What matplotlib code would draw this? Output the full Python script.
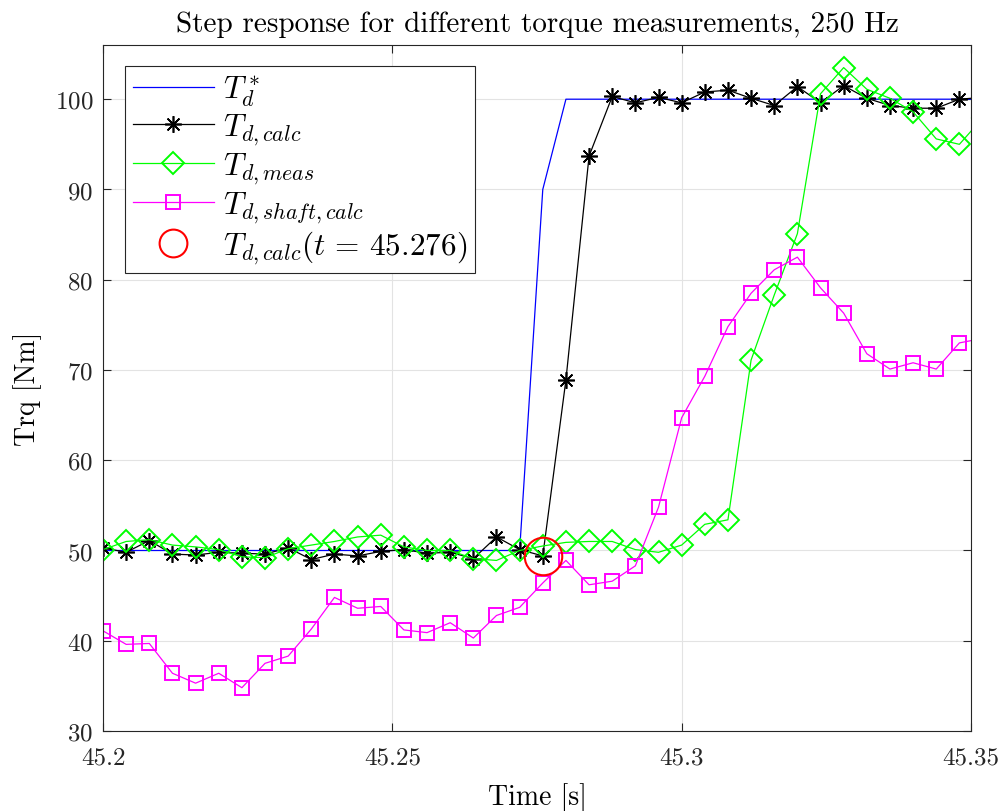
import numpy as np
import matplotlib
matplotlib.use('Agg')
import matplotlib.pyplot as plt

plt.rcParams['font.family'] = 'serif'
plt.rcParams['font.serif'] = ['cmr10']
plt.rcParams['mathtext.fontset'] = 'cm'
plt.rcParams['axes.unicode_minus'] = False
plt.rcParams['axes.formatter.use_mathtext'] = True

# sample times, 250 Hz
t = [45.200, 45.204, 45.208, 45.212, 45.216, 45.220, 45.224, 45.228, 45.232, 45.236,
     45.240, 45.244, 45.248, 45.252, 45.256, 45.260, 45.264, 45.268, 45.272, 45.276,
     45.280, 45.284, 45.288, 45.292, 45.296, 45.300, 45.304, 45.308, 45.312, 45.316,
     45.320, 45.324, 45.328, 45.332, 45.336, 45.340, 45.344, 45.348, 45.352]

T_ref = [50, 50, 50, 50, 50, 50, 50, 50, 50, 50,
         50, 50, 50, 50, 50, 50, 50, 50, 50, 90,
         100, 100, 100, 100, 100, 100, 100, 100, 100, 100,
         100, 100, 100, 100, 100, 100, 100, 100, 100]

T_calc = [50.3, 49.8, 51.1, 49.6, 49.5, 49.8, 49.7, 49.6, 50.3, 49.0,
          49.6, 49.4, 49.9, 50.1, 49.7, 49.8, 49.1, 51.5, 50.1, 49.4,
          68.9, 93.7, 100.3, 99.6, 100.2, 99.6, 100.8, 101.0, 100.1, 99.3,
          101.4, 99.6, 101.5, 100.1, 99.3, 99.0, 99.0, 100.0, 100.2]

T_meas = [50.1, 51.0, 51.2, 50.6, 50.4, 50.1, 49.3, 49.2, 50.2, 50.6,
          51.0, 51.5, 51.7, 50.4, 50.0, 50.0, 49.1, 48.9, 50.0, 50.5,
          50.9, 51.0, 51.0, 50.1, 49.8, 50.6, 52.9, 53.4, 71.1, 78.3,
          85.1, 100.6, 103.5, 101.1, 100.1, 98.6, 95.6, 95.0, 97.9]

T_shaft = [41.1, 39.6, 39.7, 36.4, 35.3, 36.4, 34.8, 37.5, 38.3, 41.3,
           44.8, 43.6, 43.8, 41.2, 40.9, 42.0, 40.3, 42.8, 43.7, 46.4,
           48.9, 46.2, 46.6, 48.3, 54.8, 64.7, 69.3, 74.8, 78.5, 81.1,
           82.5, 79.1, 76.3, 71.8, 70.1, 70.8, 70.1, 73.0, 73.5]

t_mark = 45.276
T_mark = 49.4

fig = plt.figure(figsize=(10.04, 8.12), dpi=100)
ax = fig.add_axes([0.1026, 0.0985, 0.8645, 0.8448])

ax.plot(t, T_ref, color=(0, 0, 1), lw=0.9, label=r'$T_d^*$')
ax.plot(t, T_calc, color='k', lw=0.9, marker=(8, 2, 0), ms=12, mew=1.2,
        label=r'$T_{d,calc}$')
ax.plot(t, T_meas, color=(0, 1, 0), lw=0.9, marker='D', ms=11.5, mew=1.4,
        mfc='none', label=r'$T_{d,meas}$')
ax.plot(t, T_shaft, color=(1, 0, 1), lw=0.9, marker='s', ms=9.5, mew=1.4,
        mfc='none', label=r'$T_{d,shaft,calc}$')
ax.plot([t_mark], [T_mark], ls='none', color=(1, 0, 0), marker='o', ms=27,
        mew=1.5, mfc='none', label=r'$T_{d,calc}(t\,=\,45.276)$')

ax.set_xlim(45.2, 45.35)
ax.set_ylim(30, 106)
ax.set_xticks([45.2, 45.25, 45.3, 45.35])
ax.set_xticklabels(['45.2', '45.25', '45.3', '45.35'])
ax.set_yticks([30, 40, 50, 60, 70, 80, 90, 100])

ax.grid(True, color='#e3e3e3', lw=0.8)
ax.set_axisbelow(True)
ax.tick_params(direction='in', top=True, right=True, length=6, width=0.8,
               labelsize=18, colors='#262626', pad=7)
ax.tick_params(axis='x', pad=11)
for sp in ax.spines.values():
    sp.set_color('#262626')
    sp.set_linewidth(0.8)

ax.set_title('Step response for different torque measurements, 250 Hz',
             fontsize=21, pad=10)
ax.set_xlabel('Time [s]', fontsize=20, labelpad=10)
ax.set_ylabel('Trq [Nm]', fontsize=20, labelpad=9)

leg = ax.legend(loc='upper left', bbox_to_anchor=(0.025, 0.97), fontsize=22.5,
                fancybox=False, framealpha=1, edgecolor='#262626',
                handlelength=2.6, borderpad=0.25, labelspacing=0.12,
                handletextpad=0.3, borderaxespad=0)
leg.get_frame().set_linewidth(0.8)
leg.legend_handles[4].set_markersize(20)

fig.savefig('out.png', dpi=100)
